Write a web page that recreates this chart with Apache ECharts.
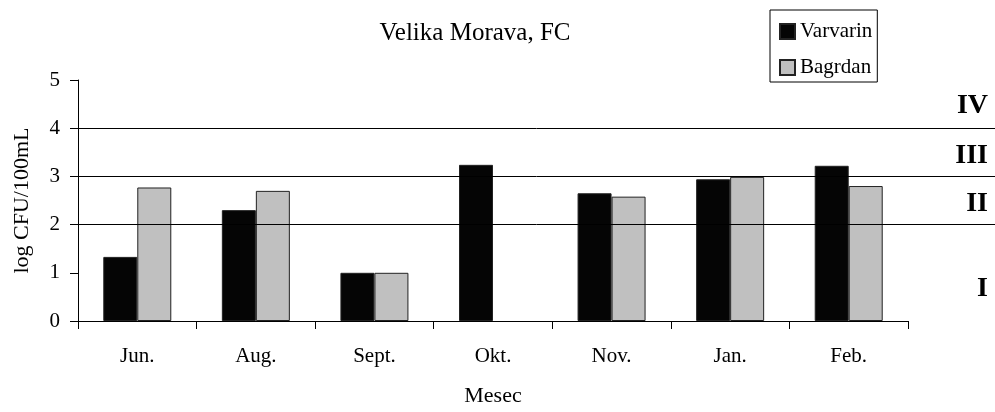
<!DOCTYPE html>
<html>
<head>
<meta charset="utf-8">
<script src="https://cdn.jsdelivr.net/npm/echarts@6/dist/echarts.min.js"></script>
<style>
  html, body { margin: 0; padding: 0; background: #fff; }
  #chart { width: 995px; height: 412px; }
</style>
</head>
<body>
<div id="chart"></div>
<script>
// podaci - log CFU/100mL po mesecima
const months = ['Jun.', 'Aug.', 'Sept.', 'Okt.', 'Nov.', 'Jan.', 'Feb.'];
const varvarin = [1.33, 2.30, 1.00, 3.24, 2.65, 2.94, 3.22];
const bagrdan = [2.77, 2.70, 1.00, null, 2.58, 2.99, 2.80];
const classLimits = [2, 3, 4];
const classNames = ['I', 'II', 'III', 'IV'];
const zoneMid = [0.66, 2.43, 3.43, 4.47];

const serif = 'Liberation Serif';
const chart = echarts.init(document.getElementById('chart'));

let option = {
  animation: false,
  textStyle: { fontFamily: serif, color: '#000' },
  title: {
    text: 'Velika Morava, FC',
    left: 470,
    textAlign: 'center',
    top: 16,
    textStyle: { fontFamily: serif, fontSize: 25, fontWeight: 'normal', color: '#000' }
  },
  legend: {
    orient: 'vertical',
    left: 770,
    top: 10,
    padding: [11, 5, 4, 9],
    itemGap: 15,
    itemWidth: 15,
    itemHeight: 15,
    borderColor: '#000',
    borderWidth: 1,
    borderRadius: 0,
    icon: 'rect',
    textStyle: { fontFamily: serif, fontSize: 21, color: '#000' },
    data: ['Varvarin', 'Bagrdan']
  },
  grid: [
    { left: 78, right: 87, top: 80, bottom: 91 },
    { left: 78, right: 0, top: 80, bottom: 91 }
  ],
  xAxis: [
    {
      type: 'category',
      gridIndex: 0,
      data: months,
      name: 'Mesec',
      nameLocation: 'middle',
      nameGap: 64,
      nameTextStyle: { fontFamily: serif, fontSize: 22, color: '#000' },
      axisLine: { show: true, lineStyle: { color: '#000', width: 1 } },
      axisTick: { show: true, alignWithLabel: false, length: 8, lineStyle: { color: '#000', width: 1 } },
      axisLabel: { fontFamily: serif, fontSize: 21, color: '#000', margin: 25 }
    },
    { type: 'value', gridIndex: 1, min: 0, max: 1, show: false }
  ],
  yAxis: [
    {
      type: 'value',
      gridIndex: 0,
      min: 0,
      max: 5,
      interval: 1,
      name: 'log CFU/100mL',
      nameLocation: 'middle',
      nameGap: 45,
      nameTextStyle: { fontFamily: serif, fontSize: 22, color: '#000' },
      axisLine: { show: true, lineStyle: { color: '#000', width: 1 } },
      axisTick: { show: true, length: 8, lineStyle: { color: '#000' } },
      axisLabel: { fontFamily: serif, fontSize: 21, color: '#000', margin: 18 },
      splitLine: { show: false }
    },
    { type: 'value', gridIndex: 1, min: 0, max: 5, show: false }
  ],
  series: [
    {
      name: 'Varvarin',
      type: 'bar',
      data: varvarin,
      barWidth: 34,
      barGap: '0%',
      itemStyle: { color: '#050505', borderColor: '#222', borderWidth: 1 }
    },
    {
      name: 'Bagrdan',
      type: 'bar',
      data: bagrdan,
      barWidth: 34,
      barGap: '0%',
      itemStyle: { color: '#c0c0c0', borderColor: '#222', borderWidth: 1 }
    },
    {
      // granice klasa, preko cele sirine
      name: 'granice',
      type: 'line',
      xAxisIndex: 1,
      yAxisIndex: 1,
      data: [],
      silent: true,
      z: 1,
      markLine: {
        silent: true,
        symbol: 'none',
        animation: false,
        label: { show: false },
        lineStyle: { color: '#000', width: 1, type: 'solid' },
        data: classLimits.map(v => ({ yAxis: v }))
      }
    }
  ]
};
chart.setOption(option);

// oznake klasa desno, izmedju granica
chart.setOption({
  graphic: classNames.map((t, i) => {
    const p = chart.convertToPixel({ gridIndex: 1 }, [0, zoneMid[i]]);
    return {
      type: 'text',
      x: 988,
      y: p[1],
      style: {
        text: t,
        font: 'bold 28px "Liberation Serif"',
        fill: '#000',
        align: 'right',
        verticalAlign: 'middle'
      }
    };
  })
});
</script>
</body>
</html>
